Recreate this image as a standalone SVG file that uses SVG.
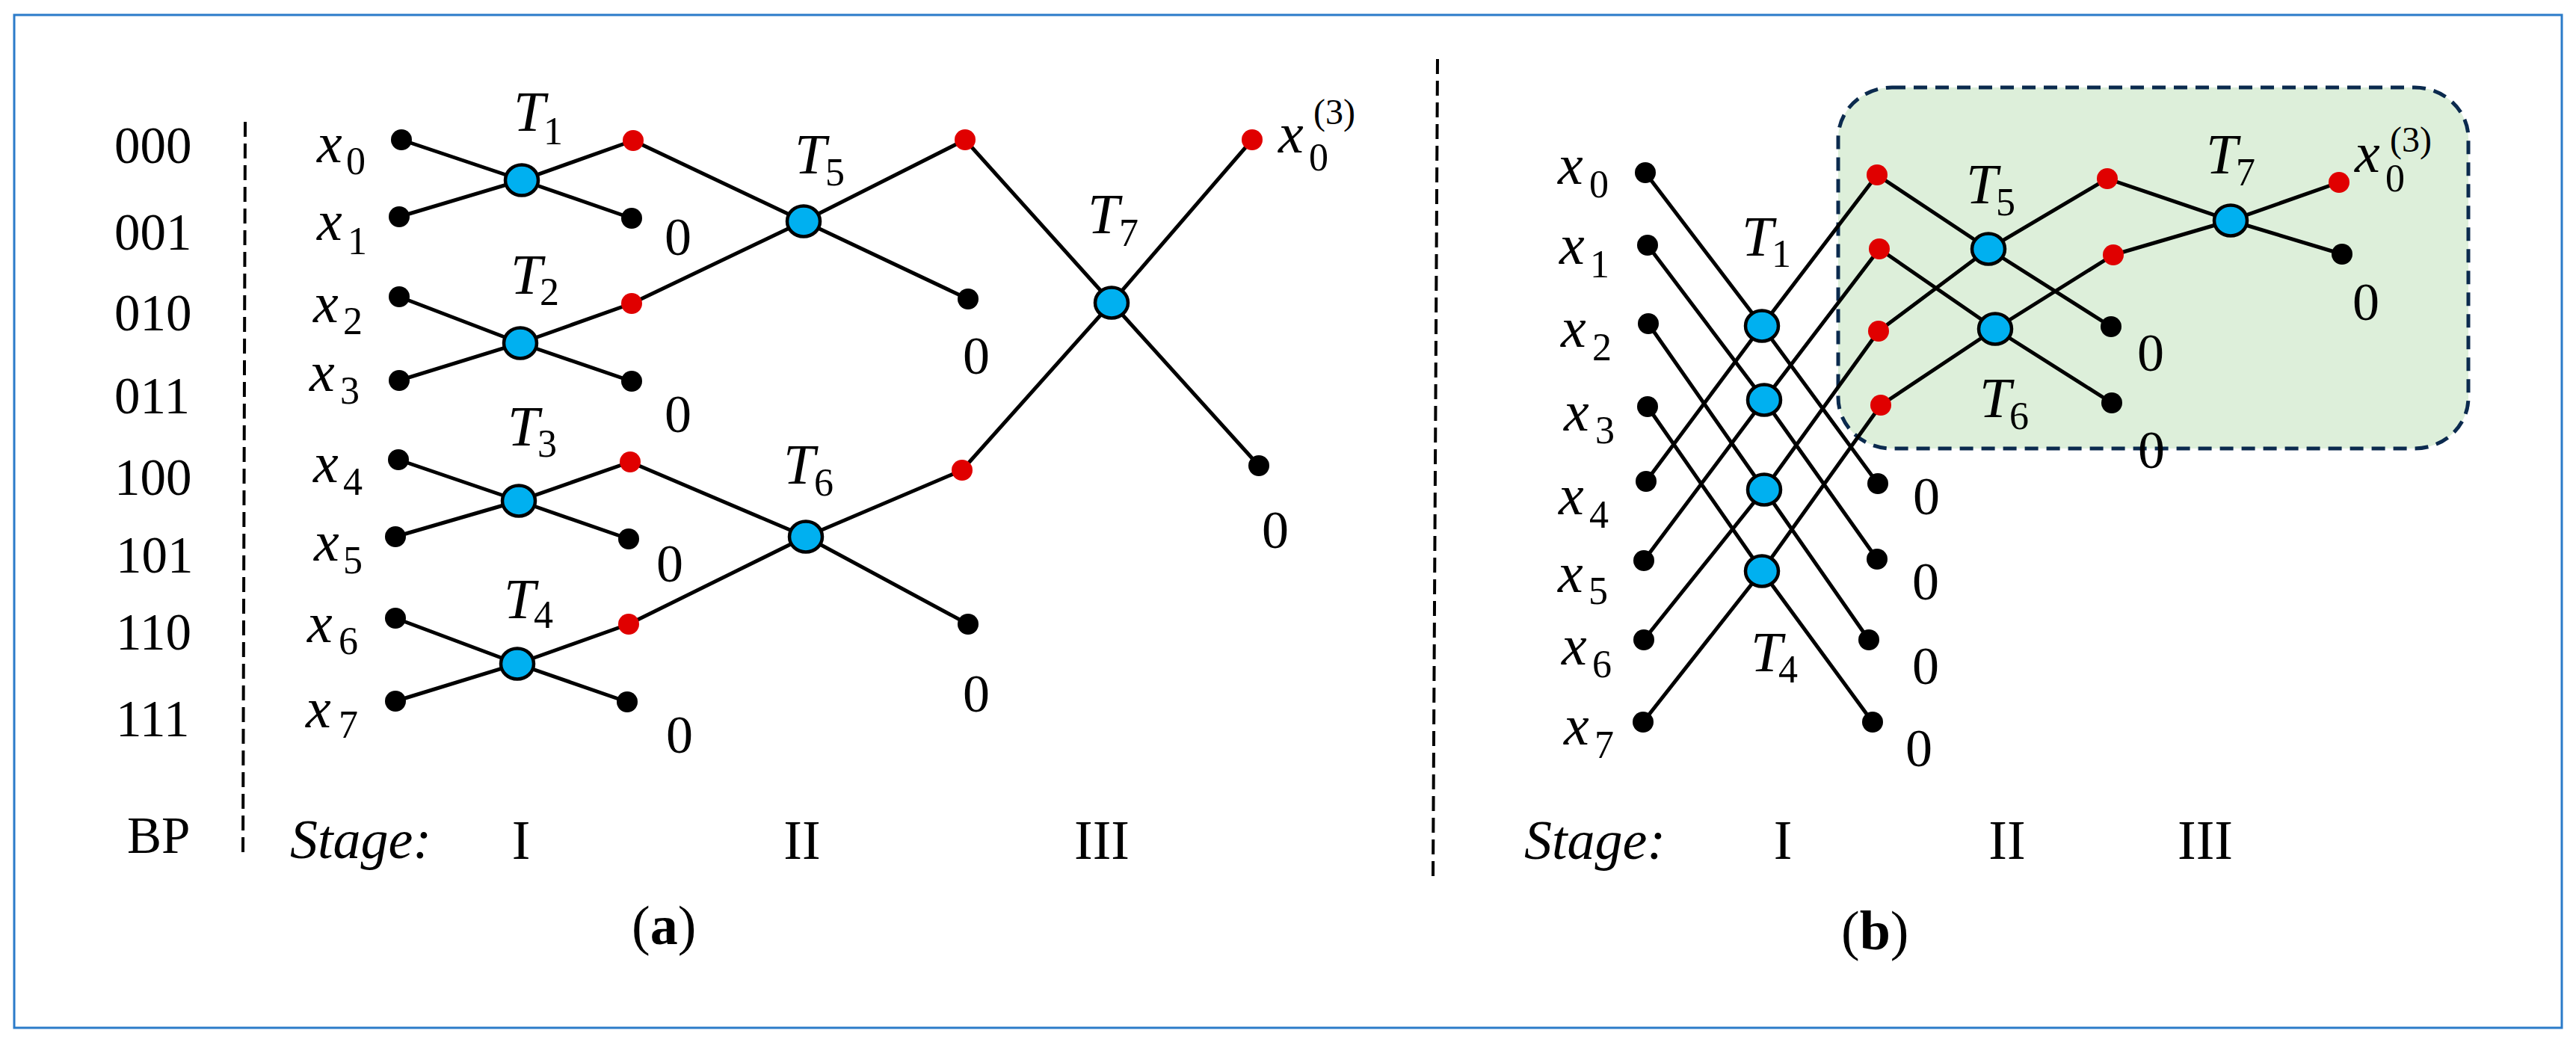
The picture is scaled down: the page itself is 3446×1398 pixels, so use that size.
<svg xmlns="http://www.w3.org/2000/svg" width="3446" height="1398" viewBox="0 0 3446 1398">
<style>
.ln{stroke:#000;stroke-width:5;fill:none;stroke-linecap:round}
.sep{stroke:#000;stroke-width:4;stroke-dasharray:20 9;fill:none}
.k{fill:#000}
.r{fill:#E00000}
.b{fill:#00B0F0;stroke:#000;stroke-width:4.5}
text{font-family:"Liberation Serif","DejaVu Serif",serif;fill:#000}
.m{font-style:italic;font-size:76px}
.s{font-style:normal;font-size:52px}
.sp{font-style:normal;font-size:48px}
.z{font-size:72px}
.bp{font-size:69px}
.st{font-size:74px}
.cap{font-size:74px}
</style>
<rect x="0" y="0" width="3446" height="1398" fill="#fff"/>
<rect x="19" y="20" width="3408" height="1355" fill="none" stroke="#2B7BC9" stroke-width="3"/>

<!-- green highlight box -->
<g id="highlight">
<rect x="2459" y="117" width="843" height="483" rx="72" ry="68" fill="#DDEFDA" stroke="#0B2A4E" stroke-width="5" stroke-dasharray="18 11"/>
</g>

<!-- separators -->
<g id="separators">
<line class="sep" x1="328" y1="163" x2="325" y2="1141"/>
<line class="sep" x1="1923" y1="79" x2="1917" y2="1172"/>
</g>

<!-- BP labels -->
<g id="bp-labels">
<text class="bp" x="153" y="218">000</text>
<text class="bp" x="153" y="334">001</text>
<text class="bp" x="153" y="442">010</text>
<text class="bp" x="153" y="553">011</text>
<text class="bp" x="153" y="662">100</text>
<text class="bp" x="155" y="766">101</text>
<text class="bp" x="155" y="869">110</text>
<text class="bp" x="155" y="985">111</text>
<text class="bp" x="170" y="1141">BP</text>
</g>

<!-- connectors -->
<g id="connectors">
<!-- (a) stage I -->
<polyline class="ln" points="537,187 698,241 845,292"/>
<polyline class="ln" points="534,290 698,241 847,188"/>
<polyline class="ln" points="534,397 696,459 845,510"/>
<polyline class="ln" points="534,509 696,459 845,406"/>
<polyline class="ln" points="533,615 694,670 841,721"/>
<polyline class="ln" points="529,718 694,670 843,618"/>
<polyline class="ln" points="529,827 692,888 839,939"/>
<polyline class="ln" points="529,938 692,888 841,835"/>
<!-- (a) stage II -->
<polyline class="ln" points="847,188 1075,296 1295,400"/>
<polyline class="ln" points="845,406 1075,296 1291,187"/>
<polyline class="ln" points="843,618 1078,718 1295,835"/>
<polyline class="ln" points="841,835 1078,718 1287,629"/>
<!-- (a) stage III -->
<polyline class="ln" points="1291,187 1487,405 1684,623"/>
<polyline class="ln" points="1287,629 1487,405 1675,187"/>
<!-- (b) stage I -->
<polyline class="ln" points="2201,231 2357,436 2512,647"/>
<polyline class="ln" points="2202,644 2357,436 2511,234"/>
<polyline class="ln" points="2204,328 2360,535 2511,748"/>
<polyline class="ln" points="2199,750 2360,535 2514,333"/>
<polyline class="ln" points="2205,433 2360,655 2500,856"/>
<polyline class="ln" points="2199,856 2360,655 2513,443"/>
<polyline class="ln" points="2204,544 2357,764 2505,966"/>
<polyline class="ln" points="2198,966 2357,764 2516,542"/>
<!-- (b) stage II -->
<polyline class="ln" points="2511,234 2660,333 2824,437"/>
<polyline class="ln" points="2513,443 2660,333 2819,239"/>
<polyline class="ln" points="2514,333 2669,440 2825,539"/>
<polyline class="ln" points="2516,542 2669,440 2827,341"/>
<!-- (b) stage III -->
<polyline class="ln" points="2819,239 2984,295 3133,340"/>
<polyline class="ln" points="2827,341 2984,295 3129,244"/>
</g>

<!-- ===== Panel (a) nodes ===== -->
<g id="a-x0"><circle class="k" cx="537" cy="187" r="14"/><text class="m"><tspan x="424" y="217">x</tspan><tspan class="s" x="463" y="233">0</tspan></text></g>
<g id="a-x1"><circle class="k" cx="534" cy="290" r="14"/><text class="m"><tspan x="424" y="321">x</tspan><tspan class="s" x="465" y="340">1</tspan></text></g>
<g id="a-x2"><circle class="k" cx="534" cy="397" r="14"/><text class="m"><tspan x="419" y="431">x</tspan><tspan class="s" x="459" y="447">2</tspan></text></g>
<g id="a-x3"><circle class="k" cx="534" cy="509" r="14"/><text class="m"><tspan x="414" y="523">x</tspan><tspan class="s" x="455" y="540">3</tspan></text></g>
<g id="a-x4"><circle class="k" cx="533" cy="615" r="14"/><text class="m"><tspan x="419" y="645">x</tspan><tspan class="s" x="459" y="662">4</tspan></text></g>
<g id="a-x5"><circle class="k" cx="529" cy="718" r="14"/><text class="m"><tspan x="420" y="750">x</tspan><tspan class="s" x="459" y="767">5</tspan></text></g>
<g id="a-x6"><circle class="k" cx="529" cy="827" r="14"/><text class="m"><tspan x="411" y="859">x</tspan><tspan class="s" x="453" y="875">6</tspan></text></g>
<g id="a-x7"><circle class="k" cx="529" cy="938" r="14"/><text class="m"><tspan x="409" y="973">x</tspan><tspan class="s" x="453" y="987">7</tspan></text></g>

<g id="a-T1"><ellipse class="b" cx="698" cy="241" rx="22" ry="20.5"/><text class="m"><tspan x="687" y="175">T</tspan><tspan class="s" x="727" y="193">1</tspan></text></g>
<g id="a-T2"><ellipse class="b" cx="696" cy="459" rx="22" ry="20.5"/><text class="m"><tspan x="683" y="393">T</tspan><tspan class="s" x="722" y="408">2</tspan></text></g>
<g id="a-T3"><ellipse class="b" cx="694" cy="670" rx="22" ry="20.5"/><text class="m"><tspan x="679" y="596">T</tspan><tspan class="s" x="719" y="611">3</tspan></text></g>
<g id="a-T4"><ellipse class="b" cx="692" cy="888" rx="22" ry="20.5"/><text class="m"><tspan x="674" y="827">T</tspan><tspan class="s" x="714" y="840">4</tspan></text></g>
<g id="a-T5"><ellipse class="b" cx="1075" cy="296" rx="22" ry="20.5"/><text class="m"><tspan x="1063" y="232">T</tspan><tspan class="s" x="1104" y="248">5</tspan></text></g>
<g id="a-T6"><ellipse class="b" cx="1078" cy="718" rx="22" ry="20.5"/><text class="m"><tspan x="1048" y="647">T</tspan><tspan class="s" x="1089" y="663">6</tspan></text></g>
<g id="a-T7"><ellipse class="b" cx="1487" cy="405" rx="22" ry="20.5"/><text class="m"><tspan x="1455" y="312">T</tspan><tspan class="s" x="1497" y="329">7</tspan></text></g>

<g id="a-r1"><circle class="r" cx="847" cy="188" r="14"/></g>
<g id="a-r2"><circle class="r" cx="845" cy="406" r="14"/></g>
<g id="a-r3"><circle class="r" cx="843" cy="618" r="14"/></g>
<g id="a-r4"><circle class="r" cx="841" cy="835" r="14"/></g>
<g id="a-r5"><circle class="r" cx="1291" cy="187" r="14"/></g>
<g id="a-r6"><circle class="r" cx="1287" cy="629" r="14"/></g>
<g id="a-out"><circle class="r" cx="1675" cy="187" r="14"/><text class="m"><tspan x="1710" y="204">x</tspan><tspan class="s" x="1751" y="228">0</tspan><tspan class="sp" x="1757" y="166">(3)</tspan></text></g>

<g id="a-z1"><circle class="k" cx="845" cy="292" r="14"/><text class="z" x="889" y="341">0</text></g>
<g id="a-z2"><circle class="k" cx="845" cy="510" r="14"/><text class="z" x="889" y="578">0</text></g>
<g id="a-z3"><circle class="k" cx="841" cy="721" r="14"/><text class="z" x="878" y="778">0</text></g>
<g id="a-z4"><circle class="k" cx="839" cy="939" r="14"/><text class="z" x="891" y="1007">0</text></g>
<g id="a-z5"><circle class="k" cx="1295" cy="400" r="14"/><text class="z" x="1288" y="500">0</text></g>
<g id="a-z6"><circle class="k" cx="1295" cy="835" r="14"/><text class="z" x="1288" y="952">0</text></g>
<g id="a-z7"><circle class="k" cx="1684" cy="623" r="14"/><text class="z" x="1688" y="733">0</text></g>

<g id="a-stages">
<text class="st" x="388" y="1148" font-style="italic">Stage:</text>
<text class="st" x="697" y="1149" text-anchor="middle">I</text>
<text class="st" x="1073" y="1149" text-anchor="middle">II</text>
<text class="st" x="1474" y="1149" text-anchor="middle">III</text>
<text class="cap" x="845" y="1263">(<tspan font-weight="bold">a</tspan>)</text>
</g>

<!-- ===== Panel (b) nodes ===== -->
<g id="b-x0"><circle class="k" cx="2201" cy="231" r="14"/><text class="m"><tspan x="2084" y="246">x</tspan><tspan class="s" x="2126" y="264">0</tspan></text></g>
<g id="b-x1"><circle class="k" cx="2204" cy="328" r="14"/><text class="m"><tspan x="2086" y="353">x</tspan><tspan class="s" x="2127" y="371">1</tspan></text></g>
<g id="b-x2"><circle class="k" cx="2205" cy="433" r="14"/><text class="m"><tspan x="2088" y="464">x</tspan><tspan class="s" x="2130" y="482">2</tspan></text></g>
<g id="b-x3"><circle class="k" cx="2204" cy="544" r="14"/><text class="m"><tspan x="2092" y="576">x</tspan><tspan class="s" x="2134" y="593">3</tspan></text></g>
<g id="b-x4"><circle class="k" cx="2202" cy="644" r="14"/><text class="m"><tspan x="2085" y="688">x</tspan><tspan class="s" x="2126" y="706">4</tspan></text></g>
<g id="b-x5"><circle class="k" cx="2199" cy="750" r="14"/><text class="m"><tspan x="2084" y="792">x</tspan><tspan class="s" x="2125" y="808">5</tspan></text></g>
<g id="b-x6"><circle class="k" cx="2199" cy="856" r="14"/><text class="m"><tspan x="2089" y="889">x</tspan><tspan class="s" x="2130" y="906">6</tspan></text></g>
<g id="b-x7"><circle class="k" cx="2198" cy="966" r="14"/><text class="m"><tspan x="2092" y="996">x</tspan><tspan class="s" x="2133" y="1014">7</tspan></text></g>

<g id="b-T1"><ellipse class="b" cx="2357" cy="436" rx="22" ry="20.5"/><text class="m"><tspan x="2330" y="342">T</tspan><tspan class="s" x="2370" y="357">1</tspan></text></g>
<g id="b-T2"><ellipse class="b" cx="2360" cy="535" rx="22" ry="20.5"/></g>
<g id="b-T3"><ellipse class="b" cx="2360" cy="655" rx="22" ry="20.5"/></g>
<g id="b-T4"><ellipse class="b" cx="2357" cy="764" rx="22" ry="20.5"/><text class="m"><tspan x="2342" y="898">T</tspan><tspan class="s" x="2379" y="913">4</tspan></text></g>
<g id="b-T5"><ellipse class="b" cx="2660" cy="333" rx="22" ry="20.5"/><text class="m"><tspan x="2630" y="272">T</tspan><tspan class="s" x="2670" y="288">5</tspan></text></g>
<g id="b-T6"><ellipse class="b" cx="2669" cy="440" rx="22" ry="20.5"/><text class="m"><tspan x="2648" y="558">T</tspan><tspan class="s" x="2688" y="574">6</tspan></text></g>
<g id="b-T7"><ellipse class="b" cx="2984" cy="295" rx="22" ry="20.5"/><text class="m"><tspan x="2951" y="232">T</tspan><tspan class="s" x="2991" y="248">7</tspan></text></g>

<g id="b-r1"><circle class="r" cx="2511" cy="234" r="14"/></g>
<g id="b-r2"><circle class="r" cx="2514" cy="333" r="14"/></g>
<g id="b-r3"><circle class="r" cx="2513" cy="443" r="14"/></g>
<g id="b-r4"><circle class="r" cx="2516" cy="542" r="14"/></g>
<g id="b-r5"><circle class="r" cx="2819" cy="239" r="14"/></g>
<g id="b-r6"><circle class="r" cx="2827" cy="341" r="14"/></g>
<g id="b-out"><circle class="r" cx="3129" cy="244" r="14"/><text class="m"><tspan x="3150" y="230">x</tspan><tspan class="s" x="3191" y="256">0</tspan><tspan class="sp" x="3197" y="203">(3)</tspan></text></g>

<g id="b-z1"><circle class="k" cx="2512" cy="647" r="14"/><text class="z" x="2559" y="688">0</text></g>
<g id="b-z2"><circle class="k" cx="2511" cy="748" r="14"/><text class="z" x="2558" y="802">0</text></g>
<g id="b-z3"><circle class="k" cx="2500" cy="856" r="14"/><text class="z" x="2558" y="915">0</text></g>
<g id="b-z4"><circle class="k" cx="2505" cy="966" r="14"/><text class="z" x="2549" y="1025">0</text></g>
<g id="b-z5"><circle class="k" cx="2824" cy="437" r="14"/><text class="z" x="2859" y="496">0</text></g>
<g id="b-z6"><circle class="k" cx="2825" cy="539" r="14"/><text class="z" x="2860" y="626">0</text></g>
<g id="b-z7"><circle class="k" cx="3133" cy="340" r="14"/><text class="z" x="3147" y="428">0</text></g>

<g id="b-stages">
<text class="st" x="2039" y="1149" font-style="italic">Stage:</text>
<text class="st" x="2385" y="1149" text-anchor="middle">I</text>
<text class="st" x="2685" y="1149" text-anchor="middle">II</text>
<text class="st" x="2950" y="1149" text-anchor="middle">III</text>
<text class="cap" x="2463" y="1270">(<tspan font-weight="bold">b</tspan>)</text>
</g>
</svg>
